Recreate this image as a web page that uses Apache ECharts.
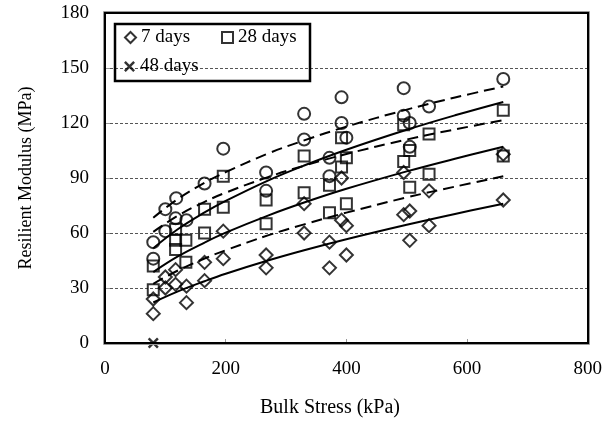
<!DOCTYPE html>
<html>
<head>
<meta charset="utf-8">
<script src="https://cdn.jsdelivr.net/npm/echarts@6/dist/echarts.min.js"></script>
<style>
  html, body { margin: 0; padding: 0; background: #fff; }
  #chart { width: 605px; height: 423px; }
</style>
</head>
<body>
<div id="chart"></div>
<script>
// Resilient modulus vs bulk stress, by curing time
const sevenDays = [
  [80,16],[80,24],[100,30],[100,36],[117,32],[117,40],[135,22],[135,31],
  [165,34],[165,44],[196,46],[196,61],[267,41],[267,48],[330,60],[330,76],
  [372,41],[372,55],[392,67],[392,90],[400,48],[400,64],[495,70],[495,93],
  [505,56],[505,72],[537,64],[537,83],[660,78],[660,103]
];
const twentyEightDays = [
  [80,29],[80,42],[117,51],[117,56],[117,62],[134,44],[134,56],[165,60],
  [165,73],[196,74],[196,91],[267,65],[267,78],[330,82],[330,102],[372,71],
  [372,86],[392,96],[392,112],[400,76],[400,101],[495,99],[495,119],[505,85],
  [505,105],[537,92],[537,114],[660,102],[660,127]
];
const circleSet = [
  [80,46],[80,55],[100,61],[100,73],[117,68],[118,79],[135,67],[165,87],
  [196,106],[267,83],[267,93],[330,111],[330,125],[372,91],[372,101],
  [392,120],[392,134],[400,112],[495,124],[495,139],[505,107],[505,120],
  [537,129],[660,144]
];
const fortyEightDays = [[80,0]];

// Trend curves (bulk stress -> modulus)
const trendX = [80,120,165,200,270,330,400,500,580,660];
const trendSolidLow  = [22.1,28.0,33.7,37.8,45.0,50.6,56.6,64.5,70.4,75.9];
const trendDashLow   = [32.3,39.4,46.1,50.6,58.7,64.7,71.1,79.4,85.3,90.9];
const trendSolidMid  = [38.7,47.1,54.8,60.2,69.5,76.6,84.1,93.6,100.5,107.0];
const trendDashMid   = [60.6,69.3,77.0,82.0,90.5,96.7,103.1,111.0,116.5,121.6];
const trendSolidHigh = [51.7,61.9,71.2,77.5,88.6,96.8,105.4,116.3,124.2,131.5];
const trendDashHigh  = [68.3,78.4,87.4,93.2,103.3,110.5,118.0,127.3,133.9,139.9];

const FONT = 'Liberation Serif, Times New Roman, serif';
const CROSS = 'path://M0,1.6L1.6,0L5,3.4L8.4,0L10,1.6L6.6,5L10,8.4L8.4,10L5,6.6L1.6,10L0,8.4L3.4,5Z';
const hollow = { color: 'rgba(0,0,0,0)', borderColor: '#000', borderWidth: 2 };

function pairs(xs, ys) { return xs.map((x, i) => [x, ys[i]]); }
function trend(name, ys, dashed) {
  return {
    type: 'line', name: name, data: pairs(trendX, ys), smooth: 0.4,
    showSymbol: false, z: 5, silent: true,
    lineStyle: { color: '#000', width: 2, type: dashed ? [11, 6] : 'solid' }
  };
}

const chart = echarts.init(document.getElementById('chart'), null, { renderer: 'canvas' });
const G = { left: 105, right: 17, top: 13, bottom: 80 };

const legendBase = {
  orient: 'horizontal', itemWidth: 11, itemHeight: 11, padding: 0,
  textStyle: { fontFamily: FONT, fontSize: 19, color: '#000' },
  itemStyle: { color: 'rgba(0,0,0,0)', borderColor: '#000', borderWidth: 2 },
  selectedMode: false
};

chart.setOption({
  animation: false,
  backgroundColor: '#fff',
  grid: Object.assign({ show: false, containLabel: false }, G),
  legend: [
    Object.assign({}, legendBase, { left: 124, top: 28, data: [{ name: '7 days', icon: 'diamond' }] }),
    Object.assign({}, legendBase, { left: 221, top: 28, data: [{ name: '28 days', icon: 'rect' }] }),
    Object.assign({}, legendBase, { left: 124, top: 57,
      itemStyle: { color: '#000', borderWidth: 0 },
      data: [{ name: '48 days', icon: CROSS }] })
  ],
  xAxis: {
    type: 'value', min: 0, max: 800, interval: 200,
    axisLine: { show: false },
    axisTick: { show: true, inside: true, length: 4, lineStyle: { color: '#999', width: 1 } },
    splitLine: { show: false },
    axisLabel: { fontFamily: FONT, fontSize: 19, color: '#000', margin: 17 }
  },
  yAxis: {
    type: 'value', min: 0, max: 180, interval: 30,
    axisLine: { show: false },
    axisTick: { show: true, inside: true, length: 5, lineStyle: { color: '#999', width: 1 } },
    splitLine: { show: true, lineStyle: { color: '#555', width: 1, type: [3, 2] } },
    axisLabel: { fontFamily: FONT, fontSize: 19, color: '#000', margin: 16 }
  },
  series: [
    { type: 'scatter', name: '7 days', data: sevenDays, symbol: 'diamond', symbolSize: 13, itemStyle: hollow, z: 3 },
    { type: 'scatter', name: '28 days', data: twentyEightDays, symbol: 'rect', symbolSize: 11, itemStyle: hollow, z: 3 },
    { type: 'scatter', name: 'circles', data: circleSet, symbol: 'circle', symbolSize: 12, itemStyle: hollow, z: 3 },
    { type: 'scatter', name: '48 days', data: fortyEightDays, symbol: CROSS, symbolSize: 11, clip: false,
      itemStyle: { color: '#000' }, z: 6 },
    trend('fit-1', trendSolidLow, false),
    trend('fit-2', trendDashLow, true),
    trend('fit-3', trendSolidMid, false),
    trend('fit-4', trendDashMid, true),
    trend('fit-5', trendSolidHigh, false),
    trend('fit-6', trendDashHigh, true)
  ]
});

// Plot frame, legend box and axis titles
const W = 605, H = 423;
const PW = W - G.left - G.right, PH = H - G.top - G.bottom;
chart.setOption({
  graphic: [
    { type: 'rect', z: 99, silent: true,
      shape: { x: G.left - 1.5, y: G.top - 1.5, width: PW + 3, height: PH + 3 },
      style: { fill: null, stroke: '#999', lineWidth: 1 } },
    { type: 'rect', z: 100, silent: true,
      shape: { x: G.left, y: G.top, width: PW, height: PH },
      style: { fill: null, stroke: '#000', lineWidth: 2 } },
    { type: 'rect', z: 100, silent: true,
      shape: { x: 115, y: 24, width: 195, height: 57 },
      style: { fill: null, stroke: '#000', lineWidth: 2.5 } },
    { type: 'text', z: 100, silent: true, x: 330, y: 408,
      style: { text: 'Bulk Stress (kPa)', font: '20px ' + FONT, fill: '#000',
               textAlign: 'center', textVerticalAlign: 'middle' } },
    { type: 'text', z: 100, silent: true, x: 26, y: 178, rotation: Math.PI / 2,
      style: { text: 'Resilient Modulus (MPa)', font: '18px ' + FONT, fill: '#000',
               textAlign: 'center', textVerticalAlign: 'middle' } }
  ]
});
</script>
</body>
</html>
